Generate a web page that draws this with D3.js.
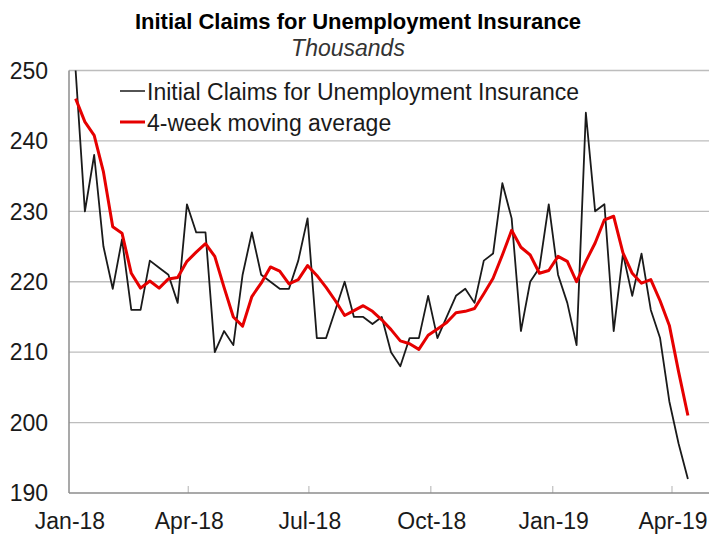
<!DOCTYPE html>
<html>
<head>
<meta charset="utf-8">
<script src="https://cdn.jsdelivr.net/npm/d3@7"></script>
<style>
  body { margin: 0; background: #fff; }
  svg { display: block; font-family: "Liberation Sans", Arial, sans-serif; }
</style>
</head>
<body>
<script>
// Initial claims, weekly, thousands (week ending Saturday, first week = Jan 6 2018)
const firstWeek = '2018-01-06'
const claims = [250, 230, 238, 225, 219, 226, 216, 216, 223, 222,
  221, 217, 231, 227, 227, 210, 213, 211, 221, 227,
  221, 220, 219, 219, 223, 229, 212, 212, 216, 220,
  215, 215, 214, 215, 210, 208, 212, 212, 218, 212,
  215, 218, 219, 217, 223, 224, 234, 229, 213, 220,
  222, 231, 221, 217, 211, 244, 230, 231, 213, 224,
  218, 224, 216, 212, 203, 197, 192]
const movingAvg = [246, 242.7, 240.8, 235.6, 227.8, 226.9, 221.2, 219.1, 220.1, 219.1,
  220.4, 220.6, 222.9, 224.2, 225.4, 223.6, 219.2, 215, 213.7, 217.9,
  219.8, 222.1, 221.5, 219.7, 220.3, 222.3, 220.9, 219.2, 217.3, 215.2,
  215.9, 216.6, 215.8, 214.6, 213.2, 211.6, 211.2, 210.4, 212.4, 213.3,
  214.2, 215.6, 215.8, 216.2, 218.3, 220.5, 223.8, 227.3, 224.9, 223.8,
  221.2, 221.6, 223.6, 222.9, 220, 222.9, 225.5, 228.8, 229.3, 224.1,
  221.2, 219.8, 220.3, 217.3, 213.8, 207.2, 201]
const yTicks = [190, 200, 210, 220, 230, 240, 250]
const xTicks = ['2018-01-01', '2018-04-01', '2018-07-01', '2018-10-01', '2019-01-01', '2019-04-01']
const seriesNames = ['Initial Claims for Unemployment Insurance', '4-week moving average']

let width = 709
let height = 534
let parse = d3.utcParse('%Y-%m-%d')
let start = parse(firstWeek)
let weeks = claims.map((v, i) => d3.utcDay.offset(start, i * 7))

let svg = d3.select('body').append('svg')
  .attr('width', width)
  .attr('height', height)

let x = d3.scaleUtc()
  .domain([parse('2018-01-01'), parse('2019-04-01')])
  .range([69, 672])
let y = d3.scaleLinear()
  .domain([190, 250])
  .range([493, 70.5])

// 网格线
svg.append('g')
  .selectAll('line')
  .data(yTicks.slice(1))
  .enter().append('line')
  .attr('x1', 69).attr('x2', width)
  .attr('y1', d => y(d)).attr('y2', d => y(d))
  .style('stroke', '#bdbdbd')
  .style('stroke-width', 1.3)

// y 轴标签
svg.append('g')
  .selectAll('text')
  .data(yTicks)
  .enter().append('text')
  .attr('x', 48)
  .attr('y', d => y(d))
  .attr('dy', '.36em')
  .attr('text-anchor', 'end')
  .style('font-size', '23px')
  .style('fill', '#1a1a1a')
  .text(d => d)

// x 轴
let fmt = d3.utcFormat('%b-%y')
let xAxis = svg.append('g')
xAxis.selectAll('line')
  .data(xTicks.slice(1))
  .enter().append('line')
  .attr('x1', d => x(parse(d))).attr('x2', d => x(parse(d)))
  .attr('y1', 493).attr('y2', 486)
  .style('stroke', '#c4c4c4')
  .style('stroke-width', 1.3)
xAxis.selectAll('text')
  .data(xTicks)
  .enter().append('text')
  .attr('x', d => x(parse(d)) + 1)
  .attr('y', 529)
  .attr('text-anchor', 'middle')
  .style('font-size', '23px')
  .style('fill', '#1a1a1a')
  .text(d => fmt(parse(d)))

svg.append('line')
  .attr('x1', 69).attr('x2', width)
  .attr('y1', 493).attr('y2', 493)
  .style('stroke', '#8c8c8c').style('stroke-width', 1.5)
svg.append('line')
  .attr('x1', 69).attr('x2', 69)
  .attr('y1', 70.5).attr('y2', 493)
  .style('stroke', '#8c8c8c').style('stroke-width', 1.5)

// 折线
let line = d3.line()
  .x((d, i) => x(weeks[i]))
  .y(d => y(d))

svg.append('path')
  .datum(claims)
  .attr('d', line)
  .style('fill', 'none')
  .style('stroke', '#1a1a1a')
  .style('stroke-width', 1.8)
  .style('stroke-linejoin', 'round')

svg.append('path')
  .datum(movingAvg)
  .attr('d', line)
  .style('fill', 'none')
  .style('stroke', '#e60000')
  .style('stroke-width', 3)
  .style('stroke-linejoin', 'round')

// 标题
svg.append('text')
  .attr('x', 358).attr('y', 29)
  .attr('text-anchor', 'middle')
  .style('font-size', '22px')
  .style('font-weight', 'bold')
  .text('Initial Claims for Unemployment Insurance')
svg.append('text')
  .attr('x', 348).attr('y', 56)
  .attr('text-anchor', 'middle')
  .style('font-size', '23px')
  .style('font-style', 'italic')
  .style('fill', '#333')
  .text('Thousands')

// 图例
let legendColors = ['#1a1a1a', '#e60000']
let legend = svg.append('g')
  .selectAll('g')
  .data(seriesNames)
  .enter().append('g')
  .attr('transform', (d, i) => 'translate(120,' + (91 + i * 31) + ')')
legend.append('line')
  .attr('x1', 0).attr('x2', 25)
  .style('stroke', (d, i) => legendColors[i])
  .style('stroke-width', (d, i) => i === 0 ? 1.5 : 3)
legend.append('text')
  .attr('x', 27)
  .attr('y', 9)
  .style('font-size', '23px')
  .style('fill', '#1a1a1a')
  .text(d => d)
</script>
</body>
</html>
